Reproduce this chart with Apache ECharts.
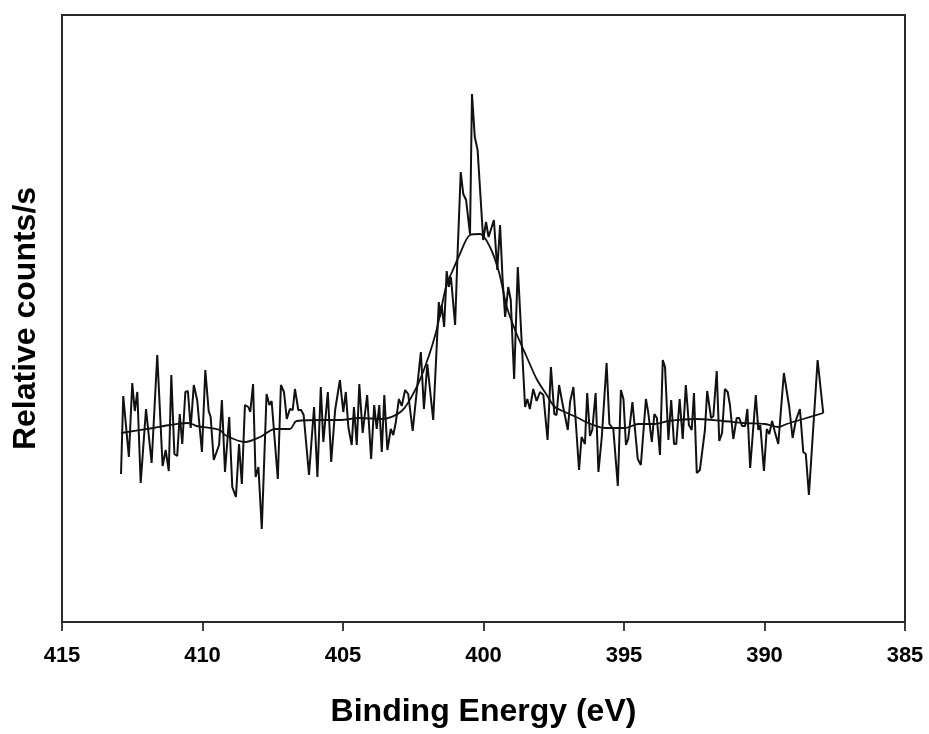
<!DOCTYPE html>
<html>
<head>
<meta charset="utf-8">
<script src="https://cdn.jsdelivr.net/npm/echarts@6/dist/echarts.min.js"></script>
<style>
html,body{margin:0;padding:0;background:#fff;}
#chart{width:929px;height:734px;}
</style>
</head>
<body>
<div id="chart"></div>
<script>
// Measured spectrum: binding energy (eV) and relative counts
const rawEnergy = [
412.90,412.82,412.62,412.50,412.41,412.32,412.20,412.01,411.81,411.61,
411.42,411.31,411.20,411.11,411.00,410.90,410.81,410.72,410.61,410.52,
410.42,410.31,410.19,410.02,409.90,409.78,409.71,409.60,409.41,409.31,
409.20,409.05,408.94,408.81,408.70,408.60,408.49,408.37,408.30,408.20,
408.11,408.01,407.89,407.72,407.62,407.54,407.32,407.21,407.10,407.00,
406.89,406.79,406.71,406.59,406.49,406.40,406.21,406.03,405.91,405.79,
405.70,405.54,405.42,405.28,405.21,405.11,404.99,404.90,404.81,404.69,
404.61,404.51,404.42,404.30,404.14,404.00,403.89,403.80,403.71,403.62,
403.53,403.42,403.30,403.21,403.12,403.01,402.91,402.79,402.68,402.52,
402.36,402.23,402.12,402.00,401.79,401.59,401.55,401.49,401.40,401.31,
401.24,401.16,401.01,400.93,400.81,400.72,400.62,400.48,400.41,400.31,
400.21,400.01,399.91,399.82,399.63,399.51,399.41,399.32,399.23,399.12,
399.03,398.91,398.78,398.52,398.44,398.35,398.23,398.11,397.99,397.87,
397.72,397.60,397.48,397.40,397.31,397.20,397.00,396.92,396.80,396.60,
396.51,396.39,396.31,396.21,396.13,396.01,395.91,395.79,395.62,395.52,
395.38,395.22,395.11,395.02,394.93,394.85,394.70,394.51,394.40,394.22,
394.14,394.01,393.92,393.83,393.72,393.62,393.54,393.42,393.32,393.22,
393.14,393.02,392.91,392.80,392.69,392.59,392.51,392.41,392.30,392.12,
392.04,391.90,391.82,391.70,391.61,391.51,391.41,391.31,391.23,391.11,
390.99,390.90,390.80,390.69,390.61,390.51,390.31,390.22,390.15,390.02,
389.92,389.83,389.73,389.63,389.51,389.31,389.12,389.00,388.88,388.74,
388.62,388.53,388.42,388.24,388.11,387.91
];
const rawCounts = [
148,226,165,239,211,230,139,213,159,267,
156,172,151,247,168,166,208,178,230,231,
194,237,222,170,252,211,205,162,177,222,
150,205,135,125,178,138,217,215,210,238,
145,155,93,228,217,221,143,237,230,203,
213,212,233,212,212,207,147,215,145,235,
180,230,160,212,210,242,210,230,195,177,
215,177,238,189,227,163,217,193,217,170,
227,172,193,187,200,223,216,232,228,191,
235,270,213,258,202,320,305,317,295,351,
335,345,297,363,450,428,422,388,528,485,
472,382,400,385,402,352,397,342,305,335,
322,243,355,215,223,213,233,221,230,227,
182,255,208,207,237,220,192,220,235,152,
185,178,229,186,192,229,150,185,259,198,
193,136,232,223,177,183,220,163,157,223,
210,180,208,204,167,262,255,182,222,178,
178,223,183,237,197,192,229,149,152,192,
231,204,206,251,181,189,233,230,217,183,
204,204,196,196,213,154,227,192,197,151,
193,188,201,190,178,249,215,184,202,213,
170,168,127,205,262,209
];
// Smoothed fit curve
const fitEnergy = [
412.90,411.75,411.16,410.56,410.38,410.21,409.38,409.20,408.49,407.95,
407.42,406.89,406.65,405.64,405.11,404.40,403.62,402.91,402.38,402.02,
401.67,401.31,401.12,400.84,400.48,400.12,399.77,399.45,399.17,398.82,
398.46,398.11,397.75,397.46,397.10,396.63,396.27,395.68,394.96,394.49,
393.90,393.42,392.47,391.47,390.75,389.98,389.51,389.21,388.62,387.91
];
const fitCounts = [
189,194,197,199,198,196,192,187,180,185,
193,193,201,202,202,204,203,211,235,260,
292,338,350,368,387,388,375,350,315,288,
265,243,227,215,210,204,199,194,194,198,
198,201,203,201,199,198,195,198,203,209
];
const xTicks = [415,410,405,400,395,390,385];

const rawData = rawEnergy.map((e,i)=>[e,rawCounts[i]]);
const fitData = fitEnergy.map((e,i)=>[e,fitCounts[i]]);
const FONT = '"Liberation Sans", Arial, sans-serif';

const chart = echarts.init(document.getElementById('chart'), null, {renderer:'canvas'});
chart.setOption({
  animation:false,
  backgroundColor:'#fff',
  grid:{left:62,top:15,width:843,height:607,show:true,borderColor:'#2a2a2a',borderWidth:2,backgroundColor:'transparent'},
  xAxis:{
    type:'value', inverse:true, min:385, max:415, interval:5,
    axisLine:{show:true,onZero:false,lineStyle:{color:'#2a2a2a',width:2}},
    axisTick:{show:true,inside:false,length:9,lineStyle:{color:'#2a2a2a',width:1.8}},
    axisLabel:{color:'#000',fontFamily:FONT,fontWeight:'bold',fontSize:22,margin:23,
      formatter:v=>xTicks.includes(v)?String(v):''},
    splitLine:{show:false},
    name:'Binding Energy (eV)', nameLocation:'middle', nameGap:74,
    nameTextStyle:{color:'#000',fontFamily:FONT,fontWeight:'bold',fontSize:32}
  },
  yAxis:{
    type:'value', min:0, max:607,
    axisLine:{show:false}, axisTick:{show:false}, axisLabel:{show:false}, splitLine:{show:false},
    name:'Relative counts/s', nameLocation:'middle', nameGap:20, nameRotate:90,
    nameTextStyle:{color:'#000',fontFamily:FONT,fontWeight:'bold',fontSize:32}
  },
  series:[
    {type:'line',data:rawData,showSymbol:false,symbol:'none',lineStyle:{color:'#111',width:2},z:2},
    {type:'line',data:fitData,showSymbol:false,symbol:'none',smooth:0.3,lineStyle:{color:'#111',width:1.8},z:3}
  ]
});
</script>
</body>
</html>
